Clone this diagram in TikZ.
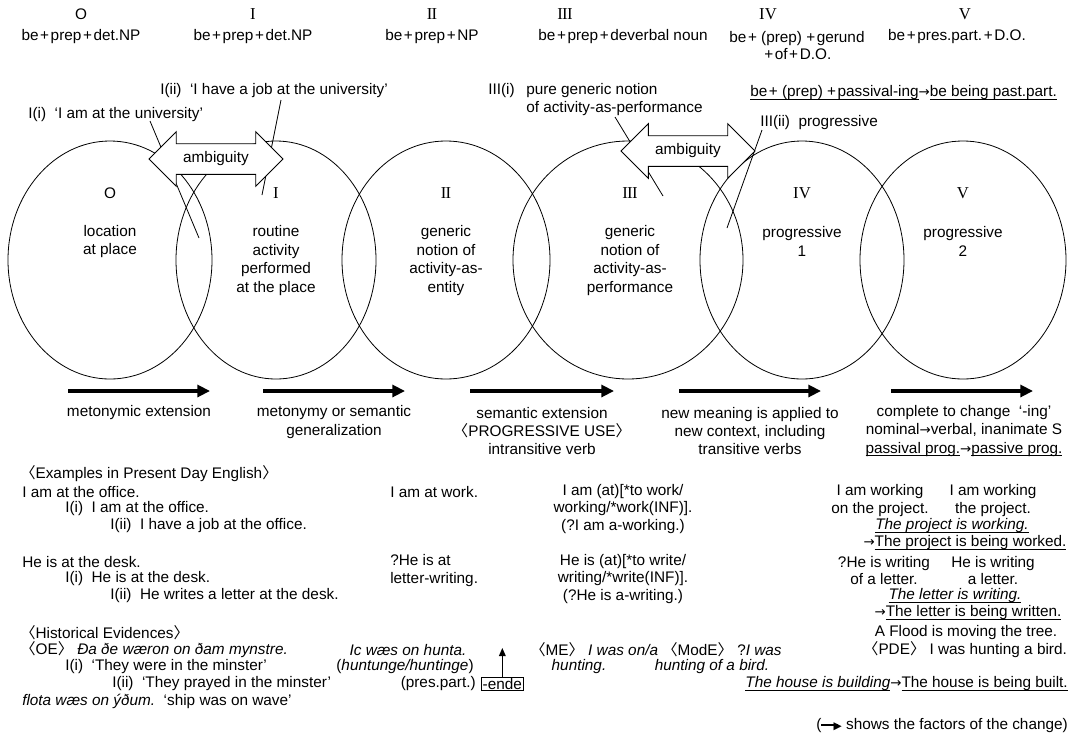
\documentclass[tikz,border=0pt]{standalone}
\usepackage{fontspec}
\setmainfont{Liberation Sans}
\newfontfamily\numfont{Liberation Serif}
\newfontfamily\cjkfont{Noto Sans CJK JP}
\newfontfamily\symfont{DejaVu Sans}
\usetikzlibrary{arrows.meta,shapes.geometric,shapes.arrows}
\newcommand{\abl}{{\cjkfont 〈}}
\newcommand{\abr}{{\cjkfont 〉}}
\newcommand{\rn}[1]{{\numfont\fontsize{12.5pt}{14pt}\selectfont #1}}
\newcommand{\pl}{\kern1.2pt+\kern1.2pt}
\newcommand{\ar}{{\symfont\fontsize{10pt}{12pt}\selectfont →}}
\newcommand{\ul}[1]{\underline{\smash{#1}}\vphantom{#1}}

\begin{document}
\begin{tikzpicture}[x=0.75pt,y=-0.75pt,>=Latex,
  every node/.style={font=\fontsize{11.5pt}{12.8pt}\selectfont,inner sep=0pt},
  ring/.style={draw,ellipse,line width=0.6pt,minimum height=178.5pt},
  inring/.style={align=center,font=\fontsize{11.5pt}{14pt}\selectfont},
  amb/.style={double arrow,draw,fill=white,line width=0.6pt,double arrow head extend=9pt,
    minimum height=100.5pt,inner ysep=5.85pt,inner xsep=2pt},
  flow/.style={line width=2.3pt,-{Triangle[length=9.5pt,width=9pt]}},
  ptr/.style={line width=0.6pt},
  lft/.style={anchor=west,align=left},
  ctr/.style={align=center},
  flowlbl/.style={align=center,font=\fontsize{11.5pt}{13.6pt}\selectfont}]
\useasboundingbox (0,0) rectangle (1075,743);

% stages as ellipses
\node[ring,minimum width=153pt] (e0) at (110,260) {};
\node[ring,minimum width=150pt] (e1) at (276,260) {};
\node[ring,minimum width=156pt] (e2) at (446,260) {};
\node[ring,minimum width=172.5pt] (e3) at (628,260) {};
\node[ring,minimum width=153pt] (e4) at (802,260) {};
\node[ring,minimum width=154.5pt] (e5) at (963,260) {};

\node (n0) at (110,193) {O};
\node (n1) at (276,193) {\rn{I}};
\node (n2) at (446,193) {\rn{I\kern-0.04em I}};
\node (n3) at (630,193) {\rn{I\kern-0.04em I\kern-0.04em I}};
\node (n4) at (802,193) {\rn{IV}};
\node (n5) at (963,193) {\rn{V}};
\node[inring] (d0) at (110,241.5) {location\\at place};
\node[inring] (d1) at (276,260.5) {routine\\activity\\performed\\at the place};
\node[inring] (d2) at (446,260.5) {generic\\notion of\\activity-as-\\entity};
\node[inring] (d3) at (630,260.5) {generic\\notion of\\activity-as-\\performance};
\node[inring] (d4) at (802,241.5) {progressive\\1};
\node[inring] (d5) at (963,241.5) {progressive\\2};

% header
\node (h0) at (81,14) {O};
\node (h1) at (253,14) {\rn{I}};
\node (h2) at (432,14) {\rn{I\kern-0.04em I}};
\node (h3) at (565,14) {\rn{I\kern-0.04em I\kern-0.04em I}};
\node (h4) at (768,14) {\rn{IV}};
\node (h5) at (965,14) {\rn{V}};
\node (f0) at (81,37) {be\pl prep\pl det.NP};
\node (f1) at (253,37) {be\pl prep\pl det.NP};
\node (f2) at (432,37) {be\pl prep\pl NP};
\node (f3) at (623,37) {be\pl prep\pl deverbal noun};
\node[ctr] (f4) at (797,45.5) {be\pl\,(prep)\,\pl gerund\\\pl of\pl D.O.};
\node (f5) at (957,37) {be\pl pres.part.\pl D.O.};

% readings
\node[lft] (r1) at (160,91) {I(ii)\ \ `I have a job at the university'};
\node[lft] (r0) at (28,115) {I(i)\ \ `I am at the university'};
\node[lft] (r3) at (488,91) {III(i)};
\node[lft] (r3b) at (526,99.5) {pure generic notion\\of activity-as-performance};
\node[lft] (r4) at (760,123) {III(ii)\ \ progressive};
\node[lft] (pas) at (750,93) {\ul{be\pl\,(prep)\,\pl passival-ing}\ar\ul{be being past.part.}};

\coordinate (u0) at (150,121); \coordinate (v0) at (199,238);
\coordinate (u1) at (281,100); \coordinate (v1) at (262,195);
\coordinate (u3) at (615,117); \coordinate (v3) at (663,196);
\coordinate (u4) at (762,130); \coordinate (v4) at (727,228);
\draw[ptr] (u0) -- (v0);
\draw[ptr] (u1) -- (v1);
\draw[ptr] (u3) -- (v3);
\draw[ptr] (u4) -- (v4);

\node[amb] (amb1) at (216,159) {ambiguity};
\node[amb] (amb2) at (688,151) {ambiguity};

% changes between stages
\foreach \a/\b [count=\i] in {68/210,263/405,470/614,679/821,891/1033}{
  \coordinate (s\i) at (\a,391); \coordinate (t\i) at (\b,391);
  \draw[flow] (s\i) -- (t\i);
}
\node (c1) at (139,413) {metonymic extension};
\node[flowlbl] (c2) at (334,422) {metonymy or semantic\\generalization};
\node[flowlbl] (c3) at (542,431) {semantic extension\\\abl PROGRESSIVE USE\abr\\intransitive verb};
\node[flowlbl] (c4) at (750,431) {new meaning is applied to\\new context, including\\transitive verbs};
\node[flowlbl] (c5) at (964,431) {complete to change\ \ `-ing'\\nominal\ar verbal, inanimate S\\\ul{passival prog.}\ar\ul{passive prog.}};

% present day examples
\node[lft] (x0) at (20,474) {\abl Examples in Present Day English\abr};
\node[lft] (x1) at (22,492) {I am at the office.};
\node[lft] (x2) at (65,509) {I(i)\ \ I am at the office.};
\node[lft] (x3) at (110,526) {I(ii)\ \ I have a job at the office.};
\node[lft] (x4) at (390,492) {I am at work.};
\node[ctr] (x5) at (623,509) {I am (at)[*to work/\\working/*work(INF)].\\(?I am a-working.)};
\node[ctr] (x6) at (880,500.5) {I am working\\on the project.};
\node[ctr] (x7) at (993,500.5) {I am working\\the project.};
\node (x8) at (952,526) {\ul{\itshape The project is working.}};
\node (x9) at (965,543) {\ar\ul{The project is being worked.}};

\node[lft] (y1) at (22,562) {He is at the desk.};
\node[lft] (y2) at (65,579) {I(i)\ \ He is at the desk.};
\node[lft] (y3) at (110,596) {I(ii)\ \ He writes a letter at the desk.};
\node[lft] (y4) at (390,570.5) {?He is at\\letter-writing.};
\node[ctr] (y5) at (623,579) {He is (at)[*to write/\\writing/*write(INF)].\\(?He is a-writing.)};
\node[ctr] (y6) at (884,570.5) {?He is writing\\of a letter.};
\node[ctr] (y7) at (993,570.5) {He is writing\\a letter.};
\node (y8) at (955,596) {\ul{\itshape The letter is writing.}};
\node (y9) at (968,613) {\ar\ul{The letter is being written.}};
\node (y10) at (966,633) {A Flood is moving the tree.};
\node (y11) at (965,650) {\abl PDE\abr\ I was hunting a bird.};

% historical evidences
\node[lft] (z0) at (20,633) {\abl Historical Evidences\abr};
\node[lft] (z1) at (20,650) {\abl OE\abr\ \textit{Ða ðe wæron on ðam mynstre.}};
\node[lft] (z2) at (65,667) {I(i)\ \ `They were in the minster'};
\node[lft] (z3) at (112,684) {I(ii)\ \ `They prayed in the minster'};
\node[lft] (z4) at (22,701) {\textit{flota wæs on ýðum.}\ \ `ship was on wave'};
\node (z5) at (408,650) {\textit{Ic wæs on hunta.}};
\node (z6) at (405,667) {(\textit{huntunge/huntinge})};
\node[anchor=east] (z7) at (476,684) {(pres.part.)};
\node[lft,draw,line width=0.6pt,inner xsep=1pt,inner ysep=0.8pt] (ende) at (481,684) {-ende};
\coordinate (endetip) at (ende.north |- 0,648);
\draw[line width=0.8pt,-{Triangle[length=6pt,width=5pt]}] (ende.north) -- (endetip);
\node[lft] (z8) at (530,650) {\abl ME\abr\ \textit{I was on/a}};
\node (z9) at (579,667) {\textit{hunting.}};
\node[lft] (z10) at (662,650) {\abl ModE\abr\ ?\textit{I was}};
\node (z11) at (712,667) {\textit{hunting of a bird.}};
\node[anchor=east] (z12) at (1068,684) {\ul{\itshape The house is building}\ar\ul{The house is being built.}};

\node[anchor=east] (key) at (1068,726) {(\rule[0.28em]{1.1em}{1.6pt}\kern-0.3em\raisebox{0.05em}{\symfont\footnotesize ▶}\ shows the factors of the change)};
\end{tikzpicture}
\end{document}
